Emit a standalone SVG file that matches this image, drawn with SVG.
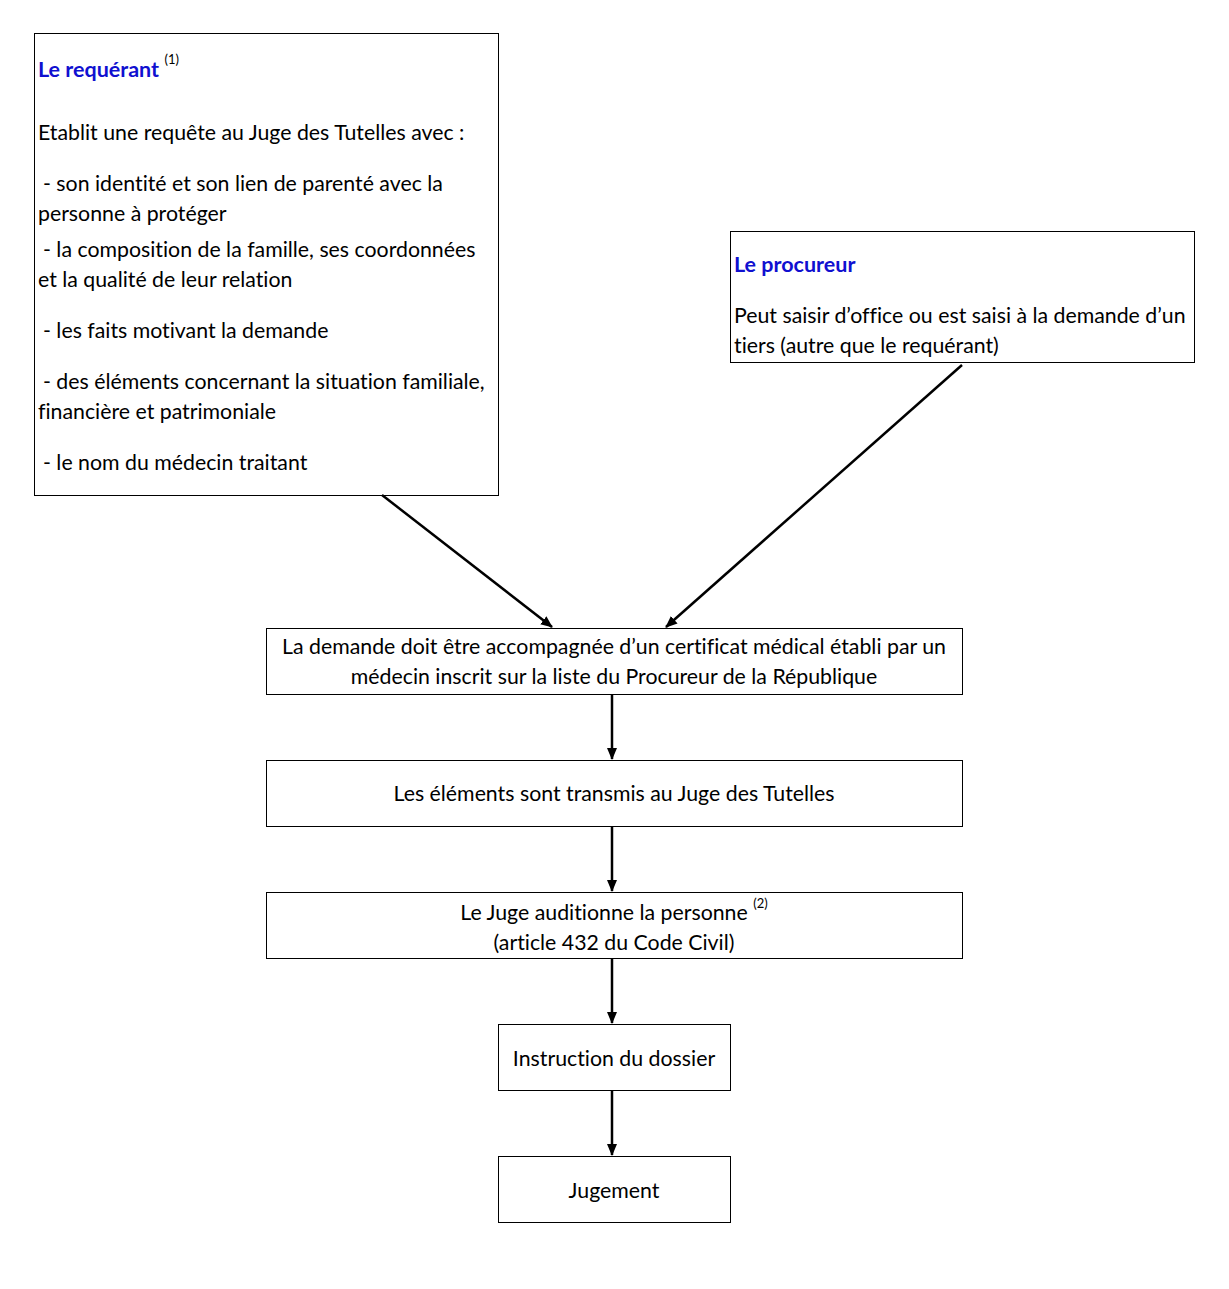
<svg xmlns="http://www.w3.org/2000/svg" width="1229" height="1289" viewBox="0 0 1229 1289">
<style>
.box{fill:#fff;stroke:#000;stroke-width:1}
text{font-family:Lato,"Liberation Sans",sans-serif;font-size:21.3px;fill:#000;font-variant-ligatures:none;font-feature-settings:"liga" 0,"clig" 0}
.t{fill:#1010d0;font-weight:bold;font-size:21.5px}
.c{text-anchor:middle}
.sup{font-size:13px}
.con{stroke:#000;stroke-width:2.5;fill:none;marker-end:url(#ah)}
</style>
<defs>
<marker id="ah" markerWidth="12" markerHeight="12" refX="11" refY="6" orient="auto" markerUnits="userSpaceOnUse"><path d="M0,1 L12,6 L0,11 z" fill="#000"/></marker>
</defs>
<rect width="1229" height="1289" fill="#fff"/>
<g id="requerant">
<rect class="box" x="34.5" y="33.5" width="464" height="462"/>
<text x="38" y="77"><tspan class="t">Le requérant</tspan> <tspan class="sup" dy="-13">(1)</tspan></text>
<text x="38" y="140">Etablit une requête au Juge des Tutelles avec :</text>
<text x="43" y="191">- son identité et son lien de parenté avec la</text>
<text x="38" y="221">personne à protéger</text>
<text x="43" y="257">- la composition de la famille, ses coordonnées</text>
<text x="38" y="287">et la qualité de leur relation</text>
<text x="43" y="338">- les faits motivant la demande</text>
<text x="43" y="389">- des éléments concernant la situation familiale,</text>
<text x="38" y="419">financière et patrimoniale</text>
<text x="43" y="470">- le nom du médecin traitant</text>
</g>
<g id="procureur">
<rect class="box" x="730.5" y="231.5" width="464" height="131"/>
<text class="t" x="734" y="272">Le procureur</text>
<text x="734" y="323">Peut saisir d’office ou est saisi à la demande d’un</text>
<text x="734" y="353">tiers (autre que le requérant)</text>
</g>
<g id="certificat">
<rect class="box" x="266.5" y="628.5" width="696" height="66"/>
<text class="c" x="614" y="654">La demande doit être accompagnée d’un certificat médical établi par un</text>
<text class="c" x="614" y="684">médecin inscrit sur la liste du Procureur de la République</text>
</g>
<g id="transmis">
<rect class="box" x="266.5" y="760.5" width="696" height="66"/>
<text class="c" x="614" y="801">Les éléments sont transmis au Juge des Tutelles</text>
</g>
<g id="audition">
<rect class="box" x="266.5" y="892.5" width="696" height="66"/>
<text class="c" x="614" y="920">Le Juge auditionne la personne <tspan class="sup" dy="-12">(2)</tspan></text>
<text class="c" x="614" y="950">(article 432 du Code Civil)</text>
</g>
<g id="instruction">
<rect class="box" x="498.5" y="1024.5" width="232" height="66"/>
<text class="c" x="614" y="1066">Instruction du dossier</text>
</g>
<g id="jugement">
<rect class="box" x="498.5" y="1156.5" width="232" height="66"/>
<text class="c" x="614" y="1198">Jugement</text>
</g>
<g id="connectors">
<line class="con" x1="382" y1="495" x2="552" y2="627"/>
<line class="con" x1="962" y1="365" x2="666" y2="627"/>
<line class="con" x1="612" y1="695" x2="612" y2="759"/>
<line class="con" x1="612" y1="827" x2="612" y2="891"/>
<line class="con" x1="612" y1="959" x2="612" y2="1023"/>
<line class="con" x1="612" y1="1091" x2="612" y2="1155"/>
</g>
</svg>
